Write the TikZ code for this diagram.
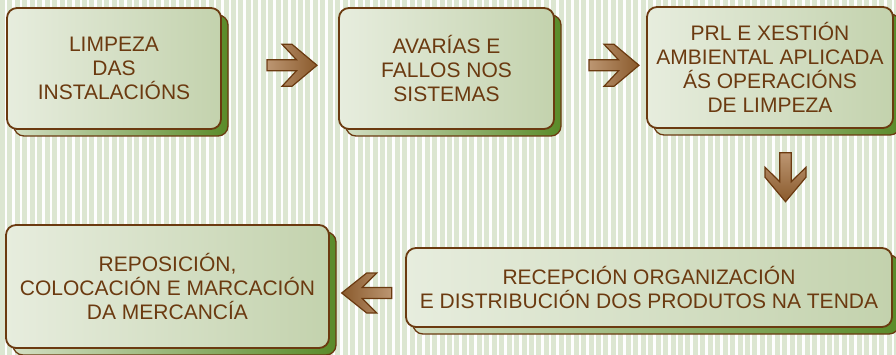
\documentclass[tikz,border=0pt]{standalone}
\usepackage{fontspec}
\setmainfont{Liberation Sans}
\definecolor{brn}{HTML}{6B3A10}
\definecolor{stripeg}{HTML}{DCE6D1}
\definecolor{boxl}{HTML}{E7EDDE}
\definecolor{boxr}{HTML}{C3D2AD}
\definecolor{shl}{HTML}{D3DFC3}
\definecolor{shr}{HTML}{5A8B29}
\definecolor{arl}{HTML}{BC9672}
\definecolor{ard}{HTML}{8A5A2C}
\tikzset{
  stagebox/.style={
    preaction={draw=brn, line width=1.3pt, left color=shl, right color=shr,
      rounded corners=10pt, transform canvas={shift={(7pt,-7pt)}}},
    draw=brn, line width=1.8pt, rounded corners=10pt,
    left color=boxl, right color=boxr,
    text=brn, align=center, inner sep=0pt,
    font=\fontsize{21}{24.2}\selectfont},
  blockarrow/.style={draw=brn, line width=1.2pt, line join=miter}
}
\begin{document}
\begin{tikzpicture}[x=1pt,y=-1pt]
\useasboundingbox (0,0) rectangle (896,355);
\fill[white!97!stripeg] (0,0) rectangle (896,355);
\foreach \i in {0,...,120} \fill[stripeg] (\i*7.45,0) rectangle ++(5,355);
% boxes
\node[stagebox, minimum width=214pt, minimum height=121pt] (b1) at (114,68.5)
  {LIMPEZA\\DAS\\INSTALACIÓNS};
\node[stagebox, minimum width=215pt, minimum height=121pt] (b2) at (446.5,68.5)
  {AVARÍAS E\\FALLOS NOS\\SISTEMAS};
\node[stagebox, minimum width=246pt, minimum height=121pt] (b3) at (770,67.5)
  {PRL E XESTIÓN\\AMBIENTAL APLICADA\\ÁS OPERACIÓNS\\DE LIMPEZA};
\node[stagebox, minimum width=486pt, minimum height=79pt] (b4) at (649,287.5)
  {RECEPCIÓN ORGANIZACIÓN\\E DISTRIBUCIÓN DOS PRODUTOS NA TENDA};
\node[stagebox, minimum width=323pt, minimum height=123pt] (b5) at (167.5,286.5)
  {REPOSICIÓN,\\COLOCACIÓN E MARCACIÓN\\DA MERCANCÍA};
% arrows
\draw[blockarrow, left color=arl, right color=ard, shift={(292,65.3)}]
  (-25,-5.5) -- (4.5,-5.5) -- (-10,-21) -- (0,-21) -- (25,0) -- (0,21) -- (-10,21) -- (4.5,5.5) -- (-25,5.5) -- cycle;
\draw[blockarrow, left color=arl, right color=ard, shift={(614,65.3)}]
  (-25,-5.5) -- (4.5,-5.5) -- (-10,-21) -- (0,-21) -- (25,0) -- (0,21) -- (-10,21) -- (4.5,5.5) -- (-25,5.5) -- cycle;
\draw[blockarrow, top color=arl, bottom color=ard, shift={(785.5,177.2)}]
  (-5.8,-24.5) -- (-5.8,4.5) -- (-20.5,-10) -- (-20.5,0) -- (0,24.5) -- (20.5,0) -- (20.5,-10) -- (5.8,4.5) -- (5.8,-24.5) -- cycle;
\draw[blockarrow, left color=ard, right color=arl, shift={(366.7,293)}]
  (25,-5.5) -- (-4.5,-5.5) -- (10,-20) -- (0,-20) -- (-25,0) -- (0,20) -- (10,20) -- (-4.5,5.5) -- (25,5.5) -- cycle;
\end{tikzpicture}
\end{document}
